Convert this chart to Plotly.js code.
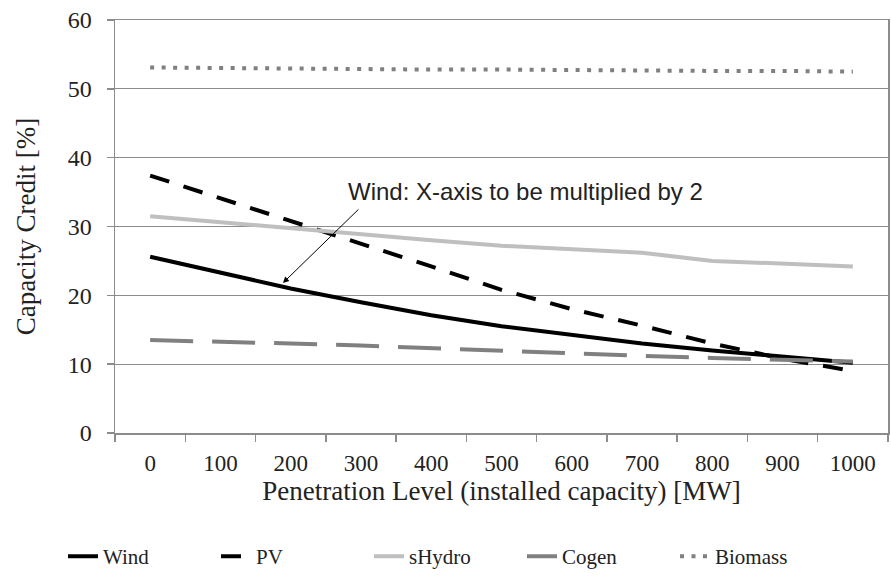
<!DOCTYPE html>
<html>
<head>
<meta charset="utf-8">
<script src="https://cdn.plot.ly/plotly-3.0.1.min.js"></script>
<style>html,body{margin:0;padding:0;background:#fff;}#chart{width:891px;height:580px;}</style>
</head>
<body>
<div id="chart"></div>
<script>
const categories = ["0","100","200","300","400","500","600","700","800","900","1000"];
const wind    = [25.6, 23.3, 21.0, 19.0, 17.1, 15.5, 14.2, 13.0, 12.0, 11.1, 10.2];
const pv      = [37.4, 34.1, 30.9, 27.6, 24.2, 20.8, 18.0, 15.6, 13.0, 10.8, 9.0];
const sHydro  = [31.5, 30.6, 29.7, 28.9, 28.0, 27.2, 26.7, 26.2, 25.0, 24.6, 24.2];
const cogen   = [13.5, 13.3, 13.0, 12.7, 12.3, 11.9, 11.6, 11.2, 10.9, 10.6, 10.4];
const biomass = [53.1, 53.0, 53.0, 52.9, 52.8, 52.8, 52.7, 52.7, 52.6, 52.6, 52.5];
const seriesNames = ["Wind", "PV", "sHydro", "Cogen", "Biomass"];
const yTicks = [0, 10, 20, 30, 40, 50, 60];
const annotText = "Wind: X-axis to be multiplied by 2";

const serif = "Times New Roman";
const traces = [
  {x: categories, y: wind, name: seriesNames[0], mode: "lines",
   line: {color: "#000000", width: 4}},
  {x: categories, y: pv, name: seriesNames[1], mode: "lines",
   line: {color: "#000000", width: 4, dash: "20px,15px"}},
  {x: categories, y: sHydro, name: seriesNames[2], mode: "lines",
   line: {color: "#bfbfbf", width: 4}},
  {x: categories, y: cogen, name: seriesNames[3], mode: "lines",
   line: {color: "#808080", width: 4, dash: "43px,19px"}},
  {x: categories, y: biomass, name: seriesNames[4], mode: "lines",
   line: {color: "#808080", width: 4, dash: "4px,7.5px"}}
];

const layout = {
  width: 891, height: 580,
  margin: {l: 115, r: 3, t: 20, b: 147, autoexpand: false},
  paper_bgcolor: "#ffffff", plot_bgcolor: "#ffffff",
  showlegend: true,
  font: {family: serif, size: 22, color: "#222222"},
  xaxis: {
    type: "category",
    range: [-0.5, 10.5],
    tickson: "boundaries",
    ticks: "outside", ticklen: 7, tickcolor: "#8c8c8c", tickwidth: 1.5,
    ticklabelstandoff: 9,
    showgrid: false,
    showline: true, linecolor: "#8c8c8c", linewidth: 1.5, mirror: true,
    tickfont: {family: serif, size: 23, color: "#222222"},
    title: {text: "Penetration Level (installed capacity) [MW]",
            font: {family: serif, size: 27, color: "#222222"}, standoff: 6},
    fixedrange: true
  },
  yaxis: {
    range: [0, 60], tickvals: yTicks,
    ticks: "outside", ticklen: 7, tickcolor: "#8c8c8c", tickwidth: 1.5,
    ticklabelstandoff: 10,
    showgrid: true, gridcolor: "#8c8c8c", gridwidth: 1.2,
    zeroline: false,
    showline: true, linecolor: "#8c8c8c", linewidth: 1.5, mirror: true,
    tickfont: {family: serif, size: 24, color: "#222222"},
    title: {text: "Capacity Credit [%]",
            font: {family: serif, size: 27, color: "#222222"}, standoff: 24},
    fixedrange: true
  },
  legend: {
    orientation: "h", xref: "container", yref: "container",
    x: 0.5, xanchor: "center", y: 0.005, yanchor: "bottom",
    font: {family: serif, size: 21, color: "#222222"},
    entrywidth: 108, tracegroupgap: 0
  },
  annotations: [
    {x: 1.89, y: 21.8, xref: "x", yref: "y", text: "", showarrow: true,
     arrowhead: 2, arrowsize: 1.2, arrowwidth: 1, arrowcolor: "#000000",
     ax: 77, ay: -75, standoff: 0},
    {x: 5.34, y: 35.07, xref: "x", yref: "y", text: annotText, showarrow: false,
     font: {family: "Liberation Sans", size: 24, color: "#222222"}}
  ]
};

Plotly.newPlot("chart", traces, layout, {displayModeBar: false, staticPlot: true});
</script>
</body>
</html>
